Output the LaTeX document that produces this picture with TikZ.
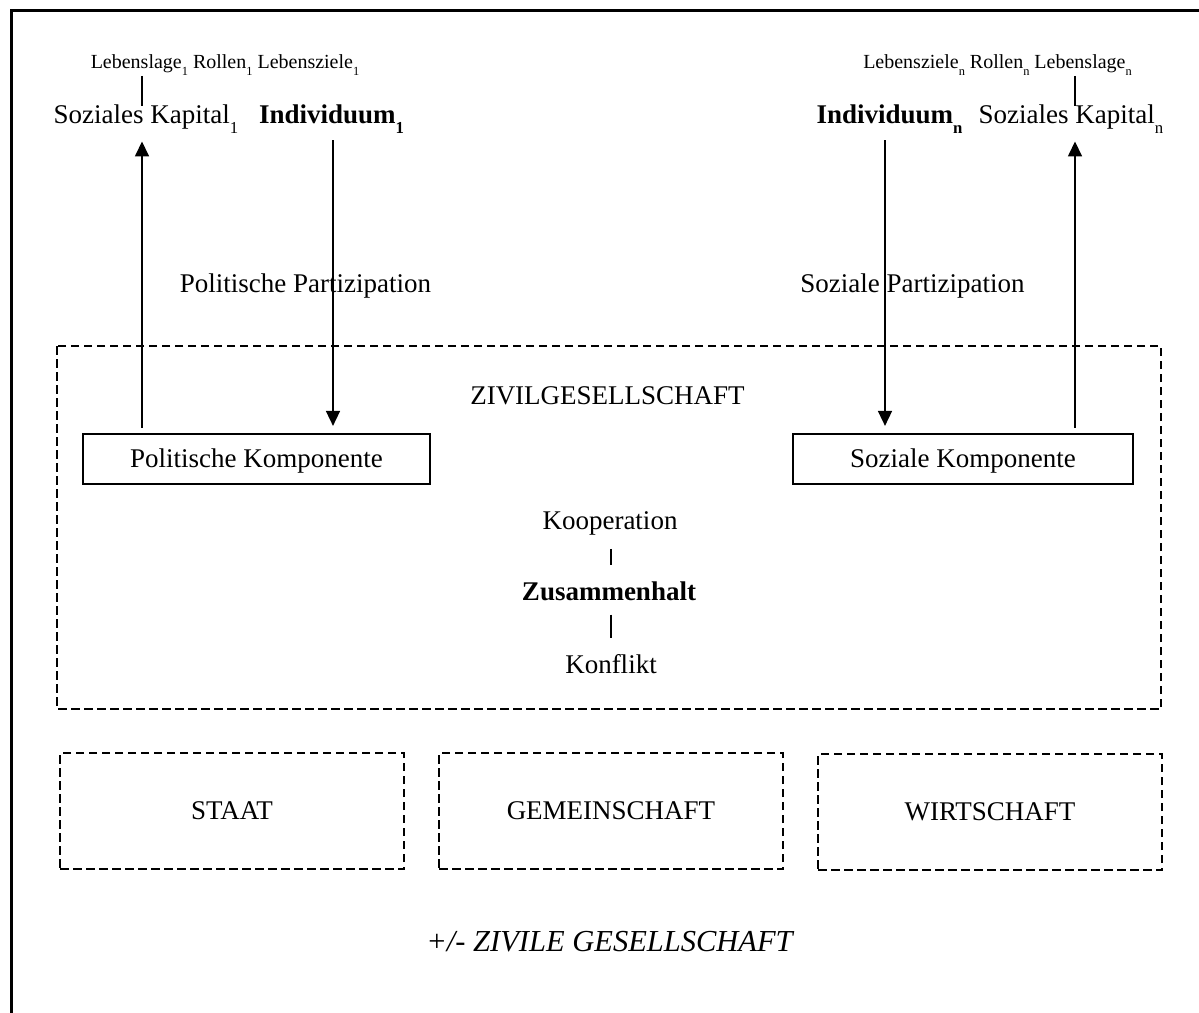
\documentclass[tikz,border=0pt]{standalone}
\usepackage{fontspec}
\usepackage{graphicx}
\setmainfont{Liberation Serif}
\usetikzlibrary{arrows.meta}
\newcommand{\subidx}[1]{\raisebox{-.38em}{\scalebox{.62}{#1}}}
\tikzset{
	txt/.style={anchor=base, inner sep=2pt, font=\fontsize{27}{32}\selectfont},
	smalltxt/.style={anchor=base, inner sep=2pt, font=\fontsize{20}{24}\selectfont},
	arr/.style={-{Triangle[length=15pt,width=14pt]}, line width=1.6pt},
	bar/.style={line width=2pt, shorten <=12pt, shorten >=14pt},
	topbar/.style={line width=2pt, shorten <=-2pt, shorten >=-4pt},
	kompbox/.style={draw, line width=2.2pt, minimum height=50pt, inner sep=0pt, text height=18pt, text depth=2pt, font=\fontsize{27}{32}\selectfont},
	dashline/.style={line width=2.9pt, dash pattern=on 8.5pt off 4.5pt},
	sektorbox/.style={draw, dashline, minimum width=344pt, minimum height=116pt, inner sep=0pt, font=\fontsize{27}{32}\selectfont},
}
\begin{document}
\begin{tikzpicture}[x=1pt, y=-1pt]
	\useasboundingbox (0,0) rectangle (1199,1012) ;
	\clip (0,0) rectangle (1199,1012) ;
	\draw[line width=3pt] (11.5,10) rectangle (1220,1030) ;
	% columns of the arrows
	\coordinate (col1) at (142,0) ;
	\coordinate (col2) at (333,0) ;
	\coordinate (col3) at (885,0) ;
	\coordinate (col4) at (1075,0) ;
	\coordinate (col5) at (611,0) ;
	% individual 1
		\node (ll1)[smalltxt] at (225, 68) {Lebenslage\subidx{1} Rollen\subidx{1} Lebensziele\subidx{1}} ;
		\node (sk1)[txt] at (146, 123) {Soziales Kapital\subidx{1}} ;
		\node (ind1)[txt] at (331.5, 123) {\bfseries Individuum\subidx{1}} ;
		\node (pp)[txt] at (305.5, 292) {Politische Partizipation} ;
	% individual n
		\node (lln)[smalltxt] at (997.5, 68) {Lebensziele\subidx{n} Rollen\subidx{n} Lebenslage\subidx{n}} ;
		\node (indn)[txt] at (889.5, 123) {\bfseries Individuum\subidx{n}} ;
		\node (skn)[txt] at (1071, 123) {Soziales Kapital\subidx{n}} ;
		\node (sp)[txt] at (912.5, 292) {Soziale Partizipation} ;
	% zivilgesellschaft
	\draw[dashline] (57,346) rectangle (1161,709) ;
		\node (zg)[txt] at (607.5, 404) {ZIVILGESELLSCHAFT} ;
		\node (pk)[kompbox, minimum width=347pt] at (256.5, 459) {Politische Komponente} ;
		\node (sok)[kompbox, minimum width=340pt] at (963, 459) {Soziale Komponente} ;
		\node (koop)[txt] at (610, 529) {Kooperation} ;
		\node (zus)[txt] at (609, 600) {\bfseries Zusammenhalt} ;
		\node (konf)[txt] at (611, 673) {Konflikt} ;
	\draw[bar] (koop.south -| col5) -- (zus.north -| col5) ;
	\draw[bar] (zus.south -| col5) -- (konf.north -| col5) ;
	% sectors
		\node (staat)[sektorbox] at (232, 811) {STAAT} ;
		\node (gem)[sektorbox] at (611, 811) {GEMEINSCHAFT} ;
		\node (wirt)[sektorbox] at (990, 812) {WIRTSCHAFT} ;
		\node (zivil)[txt, font=\fontsize{30.5}{36}\selectfont] at (609.5, 951) {\itshape +/- ZIVILE GESELLSCHAFT} ;
	% connectors
	\draw[topbar] (ll1.south -| col1) -- (sk1.north -| col1) ;
	\draw[topbar] (lln.south -| col4) -- (skn.north -| col4) ;
	\draw[arr, shorten <=5pt, shorten >=6pt] (pk.north -| col1) -- (sk1.south -| col1) ;
	\draw[arr, shorten <=5pt, shorten >=7pt] (ind1.south -| col2) -- (pk.north -| col2) ;
	\draw[arr, shorten <=5pt, shorten >=7pt] (indn.south -| col3) -- (sok.north -| col3) ;
	\draw[arr, shorten <=5pt, shorten >=6pt] (sok.north -| col4) -- (skn.south -| col4) ;
\end{tikzpicture}
\end{document}
